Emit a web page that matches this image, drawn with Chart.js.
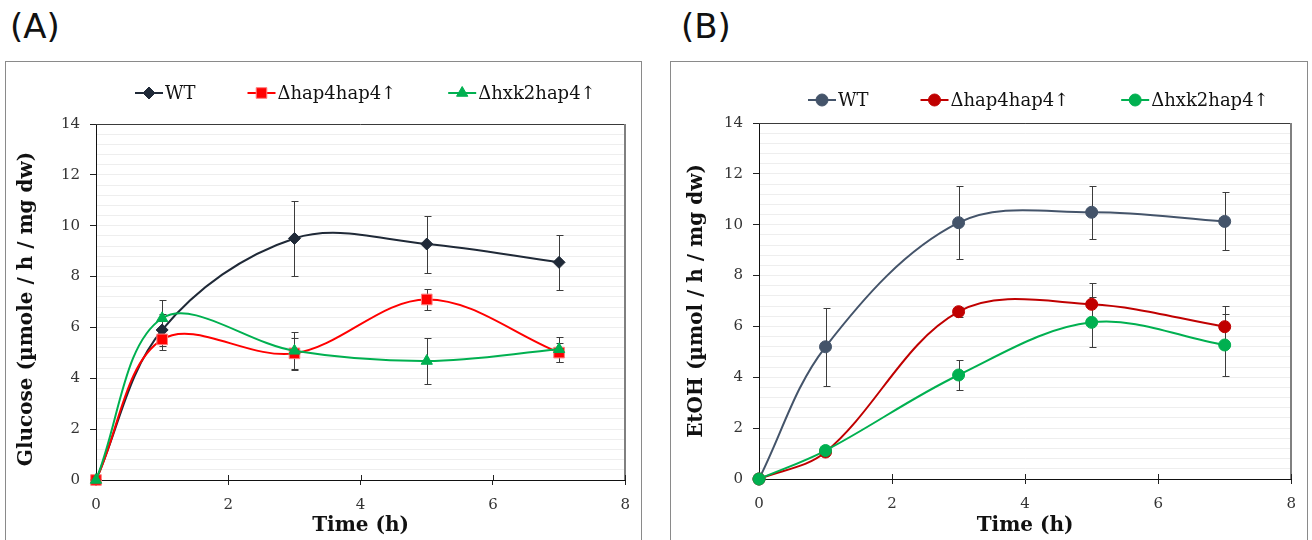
<!DOCTYPE html>
<html>
<head>
<meta charset="utf-8">
<script src="https://cdn.jsdelivr.net/npm/chart.js@4.4.1/dist/chart.umd.min.js"></script>
<style>
  html, body { margin: 0; padding: 0; background: #fff; width: 1312px; height: 540px; overflow: hidden; }
  .tag { position: absolute; top: 6px; font: 34px/40px "DejaVu Sans"; color: #111; }
  .box { position: absolute; top: 61px; height: 520px; border: 1px solid #8a8a8a; background: #fff; }
  .box canvas { position: absolute; left: 0; top: 0; }
</style>
</head>
<body>
<div class="tag" style="left:10px">(A)</div>
<div class="tag" style="left:681px">(B)</div>
<div class="box" style="left:5px;width:635px"><canvas id="glucose" width="635" height="478"></canvas></div>
<div class="box" style="left:670px;width:636px"><canvas id="etoh" width="636" height="478"></canvas></div>

<script>
// time points (h)
const hours = [0, 1, 3, 5, 7];
const seriesNames = ['WT', 'Δhap4hap4↑', 'Δhxk2hap4↑'];

// (A) glucose uptake, µmole / h / mg dw
const glucoseWT = [0, 5.9, 9.5, 9.28, 8.56];
const glucoseWTErr = [0, 0.62, 1.46, 1.12, 1.08];
const glucoseHap4 = [0, 5.53, 4.98, 7.1, 5.01];
const glucoseHap4Err = [0, 0.42, 0.6, 0.4, 0.37];
const glucoseHxk2 = [0, 6.36, 5.08, 4.68, 5.14];
const glucoseHxk2Err = [0, 0.71, 0.75, 0.92, 0.5];

// (B) ethanol production, µmol / h / mg dw
const etohWT = [0, 5.2, 10.08, 10.49, 10.13];
const etohWTErr = [0, 1.54, 1.43, 1.04, 1.14];
const etohHap4 = [0, 1.06, 6.58, 6.87, 5.99];
const etohHap4Err = [0, 0.05, 0.2, 0.82, 0.81];
const etohHxk2 = [0, 1.12, 4.09, 6.16, 5.27];
const etohHxk2Err = [0, 0.08, 0.58, 0.98, 1.23];

const xMin = 0, xMax = 8, xStep = 2;
const yMin = 0, yMax = 14, yStep = 2, yMinorStep = 0.4;

const isMajor = v => Math.abs(v / yStep - Math.round(v / yStep)) < 1e-6;

// vertical error bars, drawn under the markers
const errorBars = {
  id: 'errorBars',
  beforeDatasetsDraw(chart, args, opts) {
    const { ctx, scales: { x, y } } = chart;
    ctx.save();
    ctx.lineWidth = 1;
    ctx.strokeStyle = opts.color;
    chart.data.datasets.forEach(ds => {
      ds.data.forEach((p, i) => {
        const e = ds.errors[i];
        if (!e) return;
        const px = Math.round(x.getPixelForValue(p.x)) + 0.5;
        const top = Math.round(y.getPixelForValue(p.y + e)) + 0.5;
        const bot = Math.round(y.getPixelForValue(p.y - e)) + 0.5;
        ctx.beginPath();
        ctx.moveTo(px, top); ctx.lineTo(px, bot);
        ctx.moveTo(px - 3, top); ctx.lineTo(px + 4, top);
        ctx.moveTo(px - 3, bot); ctx.lineTo(px + 4, bot);
        ctx.stroke();
      });
    });
    ctx.restore();
  }
};

// plot frame (top + right) and the inner half of the x tick marks
const frame = {
  id: 'frame',
  beforeDatasetsDraw(chart) {
    const { ctx, chartArea: a, scales: { x } } = chart;
    ctx.save();
    ctx.strokeStyle = '#3a3a3a';
    ctx.lineWidth = 1;
    ctx.beginPath();
    ctx.moveTo(a.left, Math.round(a.top) + 0.5);
    ctx.lineTo(a.right, Math.round(a.top) + 0.5);
    ctx.stroke();
    ctx.strokeStyle = '#808080';
    ctx.lineWidth = 2;
    ctx.beginPath();
    ctx.moveTo(Math.round(a.right), a.top);
    ctx.lineTo(Math.round(a.right), a.bottom);
    ctx.stroke();
    ctx.strokeStyle = '#222';
    ctx.lineWidth = 1;
    ctx.beginPath();
    x.ticks.forEach(t => {
      const px = Math.round(x.getPixelForValue(t.value)) + 0.5;
      ctx.moveTo(px, a.bottom);
      ctx.lineTo(px, a.bottom - 5);
    });
    ctx.stroke();
    ctx.restore();
  }
};

// one-row legend: line + marker + label
const rowLegend = {
  id: 'rowLegend',
  afterDraw(chart, args, o) {
    const { ctx } = chart;
    ctx.save();
    ctx.font = o.font;
    ctx.textBaseline = 'middle';
    let x = o.x;
    chart.data.datasets.forEach(ds => {
      ctx.strokeStyle = ds.borderColor;
      ctx.lineWidth = 2;
      ctx.beginPath();
      ctx.moveTo(x, o.y); ctx.lineTo(x + 28, o.y);
      ctx.stroke();
      ctx.fillStyle = ds.pointBackgroundColor;
      ctx.strokeStyle = ds.pointBorderColor;
      ctx.lineWidth = 1;
      Chart.helpers.drawPoint(ctx, { pointStyle: ds.pointStyle, radius: ds.pointRadius, borderWidth: 1, rotation: 0 }, x + 14, o.y);
      ctx.fillStyle = '#111';
      ctx.fillText(ds.label, x + 30, o.y + 1);
      x += 30 + ctx.measureText(ds.label).width + o.gap;
    });
    ctx.restore();
  }
};

function series(name, values, errors, color, border, style, radius, order) {
  return {
    label: name,
    data: hours.map((h, i) => ({ x: h, y: values[i] })),
    errors: errors,
    borderColor: color,
    backgroundColor: color,
    borderWidth: 2,
    pointBackgroundColor: color,
    pointBorderColor: border,
    pointBorderWidth: 1,
    pointStyle: style,
    pointRadius: radius,
    tension: 0.35,
    clip: false,
    order: order
  };
}

function makeChart(id, cfg) {
  return new Chart(id, {
    type: 'line',
    data: { datasets: cfg.datasets },
    options: {
      responsive: false,
      animation: false,
      events: [],
      layout: { padding: { top: cfg.top, right: cfg.right, left: 0, bottom: 0 } },
      plugins: {
        legend: { display: false },
        tooltip: { enabled: false },
        errorBars: { color: '#3c3c3c' },
        rowLegend: { x: cfg.legendX, y: cfg.legendY, gap: 52, font: '18px "DejaVu Serif"' }
      },
      scales: {
        x: {
          type: 'linear',
          min: xMin, max: xMax,
          afterFit: s => { s.height = cfg.xHeight; },
          ticks: { stepSize: xStep, padding: 11, color: '#333', font: { family: 'DejaVu Serif', size: 15 } },
          grid: { drawOnChartArea: false, drawTicks: true, tickLength: 5, tickColor: '#222' },
          border: { color: '#111', width: 1 },
          title: {
            display: true, text: 'Time (h)', color: '#111',
            font: { family: 'DejaVu Serif', size: 20, weight: 'bold' },
            padding: { top: 0, bottom: 2 }
          }
        },
        y: {
          min: yMin, max: yMax,
          afterFit: s => { s.width = cfg.yWidth; },
          ticks: {
            stepSize: yMinorStep, autoSkip: false, padding: 10, color: '#333',
            font: { family: 'DejaVu Serif', size: 15 },
            callback: v => isMajor(v) ? Math.round(v) : ''
          },
          grid: {
            color: '#eeeeee',
            tickLength: 6,
            tickColor: c => isMajor(c.tick.value) ? '#222' : 'rgba(0,0,0,0)'
          },
          border: { color: '#111', width: 1 },
          title: {
            display: true, text: cfg.yTitle, color: '#111',
            font: { family: 'DejaVu Serif', size: 20, weight: 'bold' },
            padding: { top: cfg.yTitlePad, bottom: 0 }
          }
        }
      }
    },
    plugins: [errorBars, frame, rowLegend]
  });
}

makeChart('glucose', {
  top: 62, right: 15.3, xHeight: 60, yWidth: 90,
  yTitle: 'Glucose (µmole / h / mg dw)  ', yTitlePad: 9,
  legendX: 129, legendY: 31,
  datasets: [
    series(seriesNames[0], glucoseWT, glucoseWTErr, '#1f2937', '#1f2937', 'rectRot', 6, 3),
    series(seriesNames[1], glucoseHap4, glucoseHap4Err, '#ff0000', '#ff7f7f', 'rect', 7.5, 2),
    series(seriesNames[2], glucoseHxk2, glucoseHxk2Err, '#00b050', '#00b050', 'triangle', 6.5, 1)
  ]
});

makeChart('etoh', {
  top: 61, right: 14.4, xHeight: 61, yWidth: 88,
  yTitle: 'EtOH (µmol / h / mg dw)', yTitlePad: 14,
  legendX: 137, legendY: 38,
  datasets: [
    series(seriesNames[0], etohWT, etohWTErr, '#44546a', '#44546a', 'circle', 6, 3),
    series(seriesNames[1], etohHap4, etohHap4Err, '#c00000', '#c00000', 'circle', 6, 2),
    series(seriesNames[2], etohHxk2, etohHxk2Err, '#00b050', '#00b050', 'circle', 6, 1)
  ]
});
</script>
</body>
</html>
